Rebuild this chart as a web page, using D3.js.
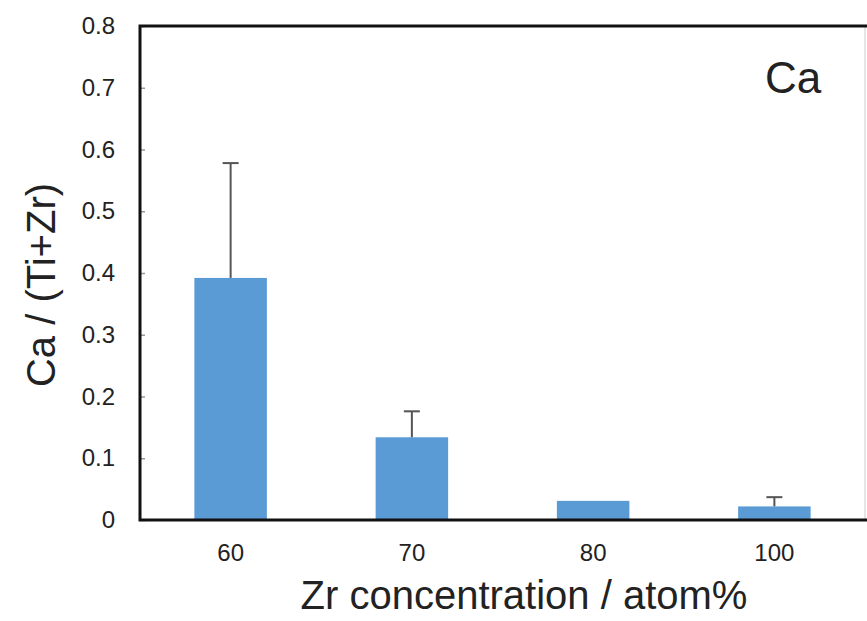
<!DOCTYPE html>
<html><head><meta charset="utf-8">
<script src="https://cdn.jsdelivr.net/npm/d3@7"></script>
<style>body{margin:0;background:#fff}svg{display:block}text{font-family:"Liberation Sans",Arial,sans-serif;fill:#222}</style>
</head><body><svg id="c" width="867" height="621"></svg>
<script>
const categories = ["60","70","80","100"];
const values = [0.392, 0.134, 0.031, 0.022];
const errors = [0.186, 0.042, 0, 0.015];
const yTicks = [0,0.1,0.2,0.3,0.4,0.5,0.6,0.7,0.8];
const yTickLabels = ["0","0.1","0.2","0.3","0.4","0.5","0.6","0.7","0.8"];

const svg = d3.select("#c");
const m = {l:140, r:865, t:26, b:520};
const x = d3.scaleBand().domain(categories).range([m.l, m.r]).padding(0);
const y = d3.scaleLinear().domain([0,0.8]).range([m.b, m.t]);
const bw = x.bandwidth()*0.4;

// bars
svg.append("g").selectAll("rect").data(categories).join("rect")
  .attr("x", d => x(d)+x.bandwidth()/2-bw/2)
  .attr("width", bw)
  .attr("y", (d,i) => y(values[i]))
  .attr("height", (d,i) => y(0)-y(values[i]))
  .attr("fill", "#5b9bd5");

// error bars
const eg = svg.append("g").attr("stroke","#555").attr("stroke-width",2);
categories.forEach((d,i) => {
  if (!errors[i]) return;
  const cx = x(d)+x.bandwidth()/2;
  eg.append("line").attr("x1",cx).attr("x2",cx).attr("y1",y(values[i])).attr("y2",y(values[i]+errors[i]));
  eg.append("line").attr("x1",cx-8).attr("x2",cx+8).attr("y1",y(values[i]+errors[i])).attr("y2",y(values[i]+errors[i]));
});

// y axis
const ya = d3.axisLeft(y).tickValues(yTicks).tickFormat((d,i)=>yTickLabels[i]).tickSize(-5).tickPadding(25);
const yg = svg.append("g").attr("transform",`translate(${m.l},0)`).call(ya);
yg.select(".domain").remove();
yg.selectAll(".tick line").attr("stroke","#999").attr("stroke-width",1.5);
yg.selectAll(".tick text").attr("font-size",24).attr("fill","#333").style("font-family","Liberation Sans, Arial, sans-serif");

// x axis
const xa = d3.axisBottom(x).tickSize(0).tickPadding(24);
const xg = svg.append("g").attr("transform",`translate(0,${m.b})`).call(xa);
xg.select(".domain").remove();
xg.selectAll(".tick text").attr("font-size",24).attr("fill","#333").style("font-family","Liberation Sans, Arial, sans-serif");

// frame
svg.append("line").attr("x1",m.r).attr("x2",m.r).attr("y1",m.t).attr("y2",m.b).attr("stroke","#ccc").attr("stroke-width",1);
svg.append("path").attr("d",`M${m.r+2},${m.t}H${m.l}V${m.b}H${m.r+2}`).attr("fill","none").attr("stroke","#111").attr("stroke-width",3);

// labels
svg.append("text").attr("x",524).attr("y",609).attr("text-anchor","middle").attr("font-size",40).text("Zr concentration / atom%");
svg.append("text").attr("transform","translate(55,285) rotate(-90)").attr("text-anchor","middle").attr("font-size",40).text("Ca / (Ti+Zr)");
svg.append("text").attr("x",793).attr("y",93).attr("text-anchor","middle").attr("font-size",44).text("Ca");
</script></body></html>
